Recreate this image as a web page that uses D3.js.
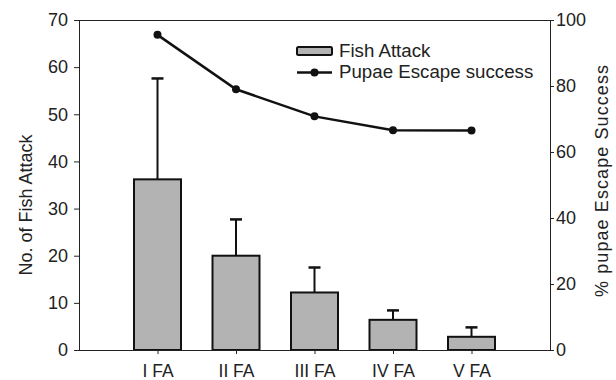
<!DOCTYPE html>
<html>
<head>
<meta charset="utf-8">
<script src="https://cdn.jsdelivr.net/npm/d3@7"></script>
<style>
  body { margin: 0; background: #fff; }
  text { font-family: Arial, "Liberation Sans", sans-serif; fill: #222; }
</style>
</head>
<body>
<div id="chart"></div>
<script>
var categories = ["I FA", "II FA", "III FA", "IV FA", "V FA"];
var attackMean = [36.2, 20.0, 12.2, 6.4, 2.8];
var attackErr = [21.4, 7.7, 5.3, 2.0, 2.0];
var escapeSuccess = [95.5, 79.0, 70.8, 66.6, 66.5];
var leftTicks = [0, 10, 20, 30, 40, 50, 60, 70];
var rightTicks = [0, 20, 40, 60, 80, 100];

var width = 616, height = 380;
var plotLeft = 79, plotRight = 550, plotTop = 20, plotBottom = 350;

var svg = d3.select("#chart").append("svg")
  .attr("width", width)
  .attr("height", height);

var x = d3.scalePoint().domain(categories).range([plotLeft, plotRight]).padding(1);
var yL = d3.scaleLinear().domain([0, 70]).range([plotBottom, plotTop]);
var yR = d3.scaleLinear().domain([0, 100]).range([plotBottom, plotTop]);

var barW = 47;

// bars with error bars
var bars = svg.append("g");
categories.forEach(function(c, i) {
  var cx = x(c);
  var g = bars.append("g");
  g.append("line")
    .attr("x1", cx).attr("x2", cx)
    .attr("y1", yL(attackMean[i])).attr("y2", yL(attackMean[i] + attackErr[i]))
    .style("stroke", "#111").style("stroke-width", 2);
  g.append("line")
    .attr("x1", cx - 6).attr("x2", cx + 6)
    .attr("y1", yL(attackMean[i] + attackErr[i])).attr("y2", yL(attackMean[i] + attackErr[i]))
    .style("stroke", "#111").style("stroke-width", 2.5);
  g.append("rect")
    .attr("x", cx - barW / 2)
    .attr("y", yL(attackMean[i]))
    .attr("width", barW)
    .attr("height", yL(0) - yL(attackMean[i]))
    .style("fill", "#b3b3b3")
    .style("stroke", "#111")
    .style("stroke-width", 2);
});

// frame top
svg.append("line")
  .attr("x1", plotLeft).attr("x2", plotRight).attr("y1", plotTop + 0.5).attr("y2", plotTop + 0.5)
  .style("stroke", "#222").style("stroke-width", 1);

// axes
var axL = svg.append("g").attr("transform", "translate(" + plotLeft + ",0)")
  .call(d3.axisLeft(yL).tickValues(leftTicks).tickSize(5).tickPadding(6));
var axR = svg.append("g").attr("transform", "translate(" + plotRight + ",0)")
  .call(d3.axisRight(yR).tickValues(rightTicks).tickSize(4).tickPadding(2));
var axB = svg.append("g").attr("transform", "translate(0," + plotBottom + ")")
  .call(d3.axisBottom(x).tickSize(4).tickPadding(11).tickSizeOuter(0));

[axL, axR, axB].forEach(function(a) {
  a.select(".domain").style("stroke", "#222");
  a.selectAll(".tick line").style("stroke", "#222");
  a.selectAll("text").style("font-size", "18px").style("fill", "#222")
    .style("font-family", "Arial, 'Liberation Sans', sans-serif");
});
axB.select(".domain").attr("d", "M" + plotLeft + ",0.5H" + plotRight);
axB.selectAll("text").style("font-size", "17.5px");

// line series
var line = d3.line()
  .x(function(d, i) { return x(categories[i]); })
  .y(function(d) { return yR(d); });

svg.append("path")
  .datum(escapeSuccess)
  .attr("d", line)
  .style("fill", "none")
  .style("stroke", "#111")
  .style("stroke-width", 2.5);

svg.selectAll(".dot")
  .data(escapeSuccess)
  .enter().append("circle")
  .attr("class", "dot")
  .attr("cx", function(d, i) { return x(categories[i]); })
  .attr("cy", function(d) { return yR(d); })
  .attr("r", 4)
  .style("fill", "#111");

// axis titles
svg.append("text")
  .attr("transform", "translate(32,205) rotate(-90)")
  .attr("text-anchor", "middle")
  .style("font-size", "18px")
  .text("No. of Fish Attack");

svg.append("text")
  .attr("transform", "translate(608,181) rotate(-90)")
  .attr("text-anchor", "middle")
  .style("font-size", "18px")
  .attr("textLength", 232)
  .text("% pupae Escape Success");

// legend
var lg = svg.append("g");
lg.append("rect")
  .attr("x", 297).attr("y", 47).attr("width", 35).attr("height", 8)
  .attr("rx", 1.5)
  .style("fill", "#b3b3b3").style("stroke", "#111").style("stroke-width", 2);
lg.append("text")
  .attr("x", 339).attr("y", 57)
  .style("font-size", "18.7px")
  .text("Fish Attack");
lg.append("line")
  .attr("x1", 297).attr("x2", 332).attr("y1", 72.5).attr("y2", 72.5)
  .style("stroke", "#111").style("stroke-width", 2.5);
lg.append("circle")
  .attr("cx", 314.5).attr("cy", 72.5).attr("r", 4)
  .style("fill", "#111");
lg.append("text")
  .attr("x", 339).attr("y", 77.5)
  .style("font-size", "18.7px")
  .text("Pupae Escape success");
</script>
</body>
</html>
